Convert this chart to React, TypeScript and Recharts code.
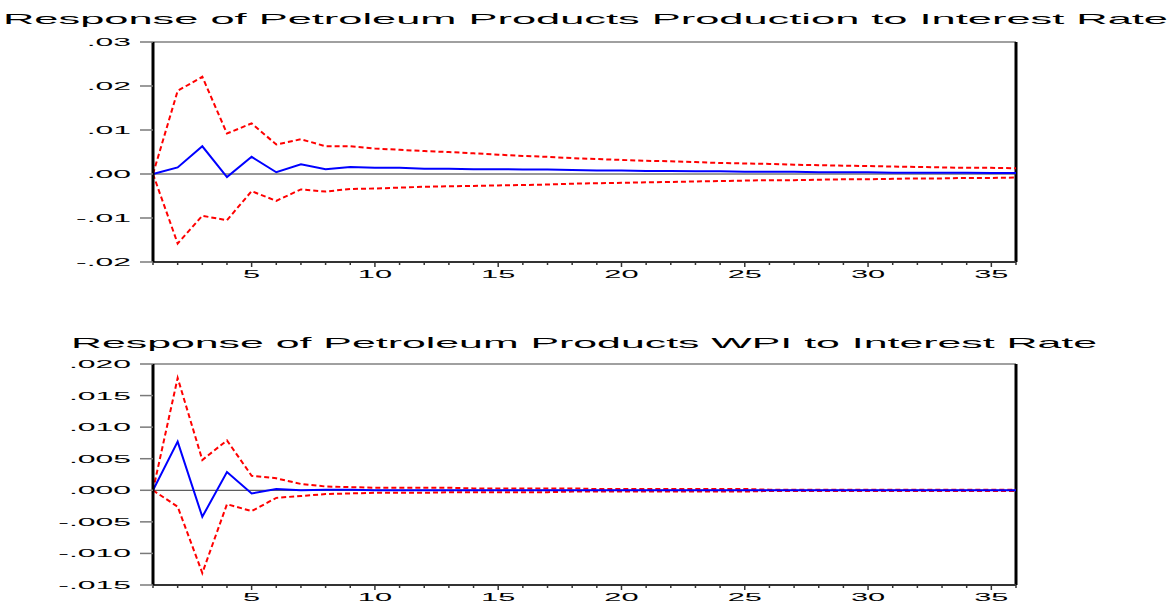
import React from 'react'
import { LineChart, Line, XAxis, YAxis, ReferenceLine } from 'recharts'

const periods = [
  1, 2, 3, 4, 5, 6, 7, 8, 9, 10, 11, 12, 13, 14, 15, 16, 17, 18,
  19, 20, 21, 22, 23, 24, 25, 26, 27, 28, 29, 30, 31, 32, 33, 34, 35, 36,
]
const xTicks = periods
const xLabels = [5, 10, 15, 20, 25, 30, 35]

// Response of Petroleum Products Production to Interest Rate
const prodResponse = [
  0, 0.0015, 0.0063, -0.0007, 0.0039, 0.0004, 0.0022, 0.0011, 0.0016, 0.0014, 0.0014, 0.0012,
  0.0012, 0.0011, 0.0011, 0.001, 0.001, 0.0009, 0.0008, 0.0008, 0.0007, 0.0007, 0.0006, 0.0006,
  0.0005, 0.0005, 0.0005, 0.0004, 0.0004, 0.0004, 0.0003, 0.0003, 0.0003, 0.0003, 0.0002, 0.0002,
]
const prodUpper = [
  0, 0.0189, 0.0221, 0.0092, 0.0115, 0.0067, 0.0079, 0.0063, 0.0063, 0.0058, 0.0055, 0.0052,
  0.005, 0.0047, 0.0044, 0.0041, 0.0039, 0.0036, 0.0034, 0.0032, 0.003, 0.0029, 0.0027, 0.0025,
  0.0024, 0.0023, 0.0021, 0.002, 0.0019, 0.0018, 0.0017, 0.0016, 0.0015, 0.0014, 0.0014, 0.0013,
]
const prodLower = [
  0, -0.0158, -0.0095, -0.0105, -0.0039, -0.0061, -0.0035, -0.004, -0.0034, -0.0033, -0.0031, -0.0029,
  -0.0028, -0.0027, -0.0026, -0.0025, -0.0024, -0.0022, -0.0021, -0.002, -0.0019, -0.0018, -0.0017, -0.0016,
  -0.0015, -0.0014, -0.0014, -0.0013, -0.0012, -0.0012, -0.0011, -0.001, -0.001, -0.0009, -0.0009, -0.0008,
]
const prodTicks = [-0.02, -0.01, 0, 0.01, 0.02, 0.03]

// Response of Petroleum Products WPI to Interest Rate
const wpiResponse = [
  0, 0.0077, -0.0042, 0.0029, -0.0005, 0.0002, 0, 0.0001, 0.0001, 0, 0, 0,
  0, 0, 0, 0, 0, 0, 0, 0, 0, 0, 0, 0,
  0, 0, 0, 0, 0, 0, 0, 0, 0, 0, 0, 0,
]
const wpiUpper = [
  0, 0.0178, 0.0048, 0.0079, 0.0023, 0.0019, 0.001, 0.0006, 0.0005, 0.0004, 0.0004, 0.0004,
  0.0004, 0.0003, 0.0003, 0.0003, 0.0003, 0.0003, 0.0002, 0.0002, 0.0002, 0.0002, 0.0002, 0.0002,
  0.0002, 0.0001, 0.0001, 0.0001, 0.0001, 0.0001, 0.0001, 0.0001, 0.0001, 0.0001, 0.0001, 0.0001,
]
const wpiLower = [
  0, -0.0026, -0.0131, -0.0022, -0.0033, -0.0012, -0.0009, -0.0006, -0.0005, -0.0004, -0.0004, -0.0004,
  -0.0003, -0.0003, -0.0003, -0.0003, -0.0003, -0.0002, -0.0002, -0.0002, -0.0002, -0.0002, -0.0002, -0.0002,
  -0.0002, -0.0001, -0.0001, -0.0001, -0.0001, -0.0001, -0.0001, -0.0001, -0.0001, -0.0001, -0.0001, -0.0001,
]
const wpiTicks = [-0.015, -0.01, -0.005, 0, 0.005, 0.01, 0.015, 0.02]

const FONT = '"Liberation Sans", Arial, sans-serif'
const SX_Y = 2.9
const SX_X = 2.8

const fmt = (v: number, d: number) => v.toFixed(d).replace('0.', '.')

const build = (resp: number[], up: number[], lo: number[]) =>
  periods.map((p, i) => ({ period: p, response: resp[i], upper: up[i], lower: lo[i] }))

function YTick(props: any) {
  const { x, y, payload, decimals } = props
  return (
    <g>
      <line x1={x - 13} x2={x} y1={y} y2={y} stroke="#7a7a7a" strokeWidth={1.5} />
      <text
        transform={`translate(${x - 22}, ${y + 4}) scale(${SX_Y}, 1)`}
        textAnchor="end"
        fontSize={11}
        fontFamily={FONT}
        fill="#000"
      >
        {fmt(payload.value, decimals)}
      </text>
    </g>
  )
}

function XTick(props: any) {
  const { x, y, payload } = props
  const major = xLabels.includes(payload.value)
  return (
    <g>
      <line x1={x} x2={x} y1={y} y2={y + (major ? 5 : 3)} stroke="#333" strokeWidth={1.5} />
      {major && (
        <text
          transform={`translate(${x}, ${y + 16}) scale(${SX_X}, 1)`}
          textAnchor="middle"
          fontSize={11}
          fontFamily={FONT}
          fill="#000"
        >
          {payload.value}
        </text>
      )}
    </g>
  )
}

interface PanelProps {
  data: { period: number; response: number; upper: number; lower: number }[]
  ticks: number[]
  decimals: number
  height: number
  top: number
  xAxisHeight: number
}

function IrfPanel({ data, ticks, decimals, height, top, xAxisHeight }: PanelProps) {
  const lo = ticks[0]
  const hi = ticks[ticks.length - 1]
  return (
    <LineChart
      width={1170}
      height={height}
      data={data}
      margin={{ top, right: 154, left: 0, bottom: 0 }}
    >
      <XAxis
        type="number"
        dataKey="period"
        domain={[1, 36]}
        ticks={xTicks}
        interval={0}
        height={xAxisHeight}
        tickSize={0}
        tickMargin={0}
        tickLine={false}
        axisLine={{ stroke: '#333', strokeWidth: 2 }}
        tick={(p: any) => <XTick {...p} />}
      />
      <YAxis
        type="number"
        domain={[lo, hi]}
        ticks={ticks}
        interval={0}
        width={153}
        tickSize={0}
        tickMargin={0}
        tickLine={false}
        axisLine={{ stroke: '#000', strokeWidth: 3 }}
        tick={(p: any) => <YTick {...p} decimals={decimals} />}
      />
      <ReferenceLine y={hi} stroke="#808080" strokeWidth={1.5} />
      <ReferenceLine x={36} stroke="#000" strokeWidth={3} />
      <ReferenceLine y={0} stroke="#333" strokeWidth={1} />
      <Line
        dataKey="upper"
        stroke="#ff0000"
        strokeWidth={2}
        strokeDasharray="5 3"
        dot={false}
        isAnimationActive={false}
      />
      <Line
        dataKey="lower"
        stroke="#ff0000"
        strokeWidth={2}
        strokeDasharray="5 3"
        dot={false}
        isAnimationActive={false}
      />
      <Line
        dataKey="response"
        stroke="#0000ff"
        strokeWidth={2}
        dot={false}
        isAnimationActive={false}
      />
    </LineChart>
  )
}

export default function App() {
  return (
    <div style={{ position: 'absolute', left: 0, top: 0, width: 1170, height: 603, background: '#fff' }}>
      <svg width={1170} height={603} style={{ position: 'absolute', left: 0, top: 0 }}>
        <text x={3} y={24} fontSize={15} fontFamily={FONT} textLength={1165} lengthAdjust="spacingAndGlyphs">
          Response of Petroleum Products Production to Interest Rate
        </text>
        <text x={71} y={348} fontSize={15} fontFamily={FONT} textLength={1026} lengthAdjust="spacingAndGlyphs">
          Response of Petroleum Products WPI to Interest Rate
        </text>
      </svg>
      <div style={{ position: 'absolute', left: 0, top: 0 }}>
        <IrfPanel
          data={build(prodResponse, prodUpper, prodLower)}
          ticks={prodTicks}
          decimals={2}
          height={300}
          top={42}
          xAxisHeight={38}
        />
      </div>
      <div style={{ position: 'absolute', left: 0, top: 300 }}>
        <IrfPanel
          data={build(wpiResponse, wpiUpper, wpiLower)}
          ticks={wpiTicks}
          decimals={3}
          height={303}
          top={64}
          xAxisHeight={18}
        />
      </div>
    </div>
  )
}
